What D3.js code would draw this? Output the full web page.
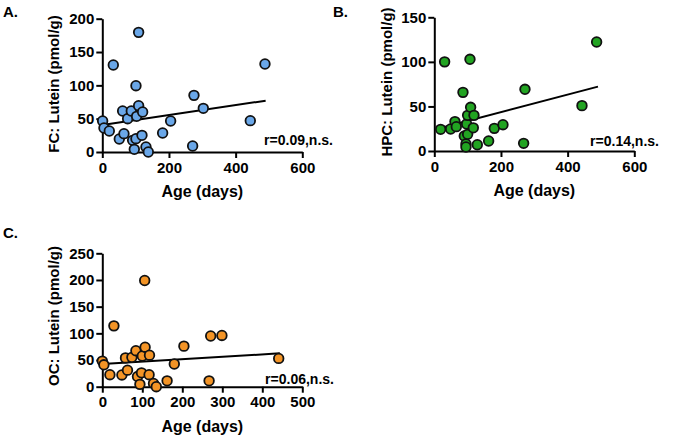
<!DOCTYPE html>
<html>
<head>
<meta charset="utf-8">
<title>Lutein vs Age</title>
<script src="https://d3js.org/d3.v7.min.js"></script>
<style>
  body { margin: 0; background: #fff; }
  svg text { font-family: "Liberation Sans", Arial, sans-serif; font-weight: bold; fill: #000; }
</style>
</head>
<body>
<svg id="chart" width="673" height="437"></svg>
<script>
// FC (panel A): age in days, lutein pmol/g
const fcAge    = [1, 5, 21, 33, 51, 65, 61, 76, 87, 91, 96, 101, 101, 103, 109, 109, 119, 121, 131, 138, 181, 205, 271, 275, 303, 444, 488];
const fcLutein = [46.5, 36, 31.5, 130.5, 19.5, 27.5, 61.5, 50, 61.5, 17.5, 4, 20, 99.5, 53.5, 69.5, 179.5, 25, 60, 7.5, 0, 28.5, 46.5, 9, 85, 65.5, 47, 132];
const fcLine   = [[0, 40.6], [490, 77]];

// HPC (panel B)
const hpcAge    = [19, 31, 49, 62, 66, 86, 90, 97, 95, 95, 100, 100, 107, 109, 119, 117, 129, 163, 180, 206, 268, 272, 443, 487];
const hpcLutein = [24.3, 100, 24.7, 33, 27.3, 65.8, 16.8, 30.3, 7.9, 4.5, 18.7, 40, 102.9, 49, 40, 26, 7, 11.2, 25.4, 29.5, 8.6, 69.2, 50.9, 122.3];
const hpcLine   = [[19, 25.8], [491, 72.2]];

// OC (panel C)
const ocAge    = [0, 4, 19, 29, 49, 58, 63, 74, 84, 88, 94, 98, 100, 107, 106, 117, 118, 128, 135, 162, 180, 204, 267, 271, 299, 441];
const ocLutein = [48, 41, 22.5, 114, 22, 54, 31, 55, 67.5, 19, 4.4, 26, 57.5, 74, 199, 22.5, 59, 6, 0, 11, 42.5, 76, 11, 95, 96, 53];
const ocLine   = [[0, 42.5], [444, 62.5]];

const panels = [
  { tag: "A.", tagX: 3, tagY: 17, ylab: "FC: Lutein (pmol/g)", ylabX: 59, ylabY: 84,
    x0: 102.3, x1: 302.3, xmax: 600, xticks: [0, 200, 400, 600],
    y0: 152, y1: 18.7, ymax: 200, yticks: [0, 50, 100, 150, 200],
    age: fcAge, val: fcLutein, line: fcLine, fill: "#6aa7e8",
    r: "r=0.09,n.s.", rX: 333, rY: 145, xlabY: 197 },
  { tag: "B.", tagX: 333, tagY: 17, ylab: "HPC: Lutein (pmol/g)", ylabX: 392, ylabY: 82,
    x0: 434.3, x1: 634.3, xmax: 600, xticks: [0, 200, 400, 600],
    y0: 151, y1: 17.3, ymax: 150, yticks: [0, 50, 100, 150],
    age: hpcAge, val: hpcLutein, line: hpcLine, fill: "#22a422",
    r: "r=0.14,n.s.", rX: 659, rY: 146, xlabY: 196 },
  { tag: "C.", tagX: 3, tagY: 238, ylab: "OC: Lutein (pmol/g)", ylabX: 59, ylabY: 316,
    x0: 102.3, x1: 302.3, xmax: 500, xticks: [0, 100, 200, 300, 400, 500],
    y0: 386.7, y1: 253.3, ymax: 250, yticks: [0, 50, 100, 150, 200, 250],
    age: ocAge, val: ocLutein, line: ocLine, fill: "#f39426",
    r: "r=0.06,n.s.", rX: 334, rY: 384, xlabY: 432 }
];

const svg = d3.select("#chart");

panels.forEach(p => {
  const x = d3.scaleLinear().domain([0, p.xmax]).range([p.x0, p.x1]);
  const y = d3.scaleLinear().domain([0, p.ymax]).range([p.y0, p.y1]);
  const g = svg.append("g");

  // axes
  const xa = g.append("g").attr("transform", `translate(0,${p.y0})`)
    .call(d3.axisBottom(x).tickValues(p.xticks).tickSize(6).tickPadding(4).tickSizeOuter(0));
  const ya = g.append("g").attr("transform", `translate(${p.x0},0)`)
    .call(d3.axisLeft(y).tickValues(p.yticks).tickSize(6).tickPadding(2).tickSizeOuter(0));
  [xa, ya].forEach(a => {
    a.select(".domain").attr("stroke", "#000").attr("stroke-width", 2);
    a.selectAll(".tick line").attr("stroke", "#000").attr("stroke-width", 2);
    a.selectAll(".tick text").style("font-size", "15px").style("font-family", "Liberation Sans, Arial, sans-serif").style("font-weight", "bold");
  });

  // regression line
  g.append("line")
    .attr("x1", x(p.line[0][0])).attr("y1", y(p.line[0][1]))
    .attr("x2", x(p.line[1][0])).attr("y2", y(p.line[1][1]))
    .attr("stroke", "#000").attr("stroke-width", 2);

  // points
  g.selectAll("circle").data(p.age).join("circle")
    .attr("cx", d => x(d))
    .attr("cy", (d, i) => y(p.val[i]))
    .attr("r", 4.8)
    .attr("fill", p.fill)
    .attr("stroke", "#111")
    .attr("stroke-width", 1.8);

  // labels
  svg.append("text").attr("x", p.tagX).attr("y", p.tagY).style("font-size", "15px").text(p.tag);
  svg.append("text").attr("transform", `translate(${p.ylabX},${p.ylabY}) rotate(-90)`)
    .attr("text-anchor", "middle").style("font-size", "15px").text(p.ylab);
  svg.append("text").attr("x", (p.x0 + p.x1) / 2).attr("y", p.xlabY)
    .attr("text-anchor", "middle").style("font-size", "16px").text("Age (days)");
  svg.append("text").attr("x", p.rX).attr("y", p.rY)
    .attr("text-anchor", "end").style("font-size", "14px").text(p.r);
});
</script>
</body>
</html>
